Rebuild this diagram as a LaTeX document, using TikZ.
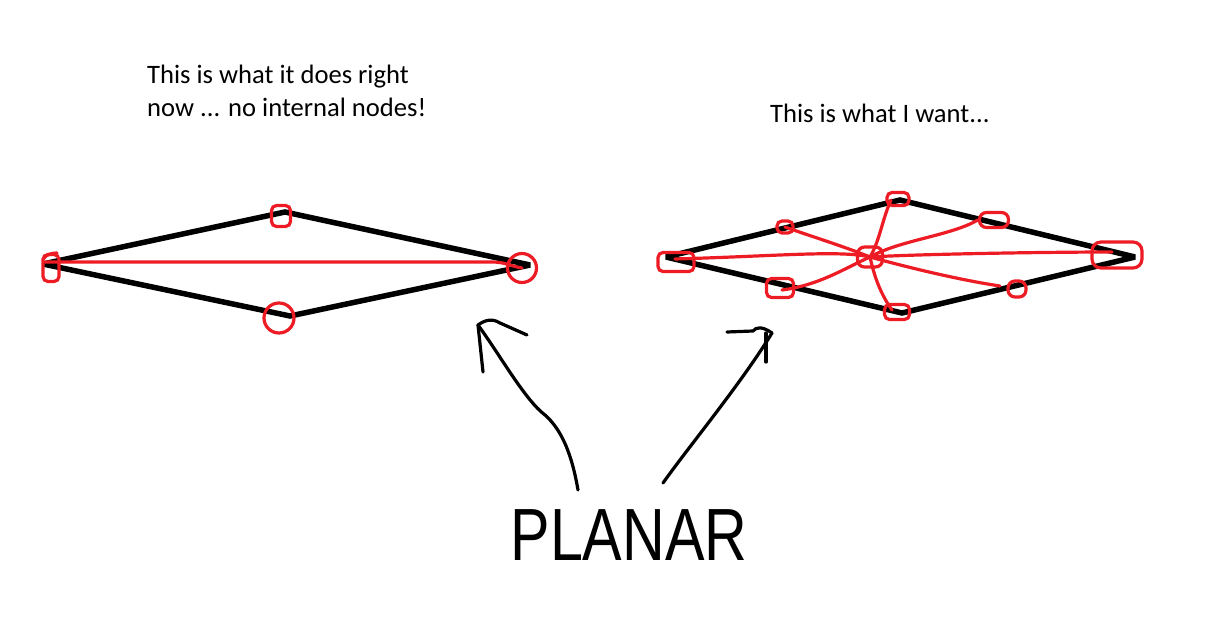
\documentclass[tikz,border=0pt]{standalone}
\usepackage{fontspec}
\setmainfont{Carlito}
\newfontfamily\planarfont{Liberation Sans}
\definecolor{paintred}{RGB}{237,28,36}
\begin{document}
\begin{tikzpicture}[x=1pt,y=-1pt,
  blk/.style={line width=5.5pt,black,line join=miter,miter limit=2},
  redl/.style={line width=3.2pt,paintred,line cap=round,line join=round},
  loopn/.style={draw=paintred,line width=3.2pt,rounded corners=5pt,inner sep=0pt},
  hand/.style={line width=3.2pt,black,line cap=round,line join=round},
  caption/.style={font=\fontsize{26.6}{33}\selectfont,inner sep=0pt,align=left}]
\useasboundingbox (0,0) rectangle (1217,623);
% captions
\node[caption,anchor=base west] (t1) at (147,117) {This is what it does right\\now ... no internal nodes!};
\node[caption,anchor=base west] (t2) at (770,123) {This is what I want...};
% ---------- left diamond ----------
\coordinate (A1) at (43,264);
\coordinate (A2) at (285,212);
\coordinate (A3) at (530,265);
\coordinate (A4) at (290,316);
\draw[blk] (A1)--(A2)--(A3)--(A4)--cycle;
\node[loopn,minimum width=16pt,minimum height=27pt] (la) at (51,268) {};
\node[loopn,minimum width=19pt,minimum height=21pt] (lb) at (281,216) {};
\node[loopn,circle,minimum size=30pt] (lc) at (279,318) {};
\node[loopn,circle,minimum size=29pt] (ld) at (522,268) {};
\draw[redl] (43,259) .. controls (47,254) and (52,253) .. (57,253);
\draw[redl] (la.center) ++(-6,-6) -- (492,262) .. controls (505,262) and (510,266) .. (ld.center);
% ---------- right diamond ----------
\coordinate (B1) at (666,257);
\coordinate (B2) at (900,200);
\coordinate (B3) at (1135,257);
\coordinate (B4) at (902,313);
\draw[blk] (B1)--(B2)--(B3)--(B4)--cycle;
\node[loopn,minimum width=36pt,minimum height=19pt] (rl) at (676,262) {};
\node[loopn,minimum width=22pt,minimum height=13pt] (rt) at (898,199) {};
\node[loopn,minimum width=16pt,minimum height=12pt] (rul) at (785,227) {};
\node[loopn,minimum width=29pt,minimum height=15pt,rounded corners=7pt] (rur) at (994,220) {};
\node[loopn,minimum width=50pt,minimum height=26pt,rounded corners=9pt] (rr) at (1117,255) {};
\node[loopn,minimum width=27pt,minimum height=19pt] (rll) at (780,288) {};
\node[loopn,minimum width=18pt,minimum height=16pt,rounded corners=7pt] (rlr) at (1017,289) {};
\node[loopn,minimum width=25pt,minimum height=15pt] (rb) at (897,312) {};
\node[loopn,minimum width=25pt,minimum height=20pt,rounded corners=7pt] (hub) at (870,257) {};
% spokes
\draw[redl] (hub.center) .. controls (840,250) and (780,256) .. (675,259);
\draw[redl] (hub.center) .. controls (920,254) and (1050,252) .. (1112,252);
\draw[redl] (hub.center) .. controls (880,240) and (882,220) .. (891,200);
\draw[redl] (hub.center) .. controls (840,245) and (810,236) .. (rul.center);
\draw[redl] (hub.center) .. controls (900,240) and (950,236) .. (rur.west);
\draw[redl] (hub.center) .. controls (845,268) and (820,285) .. (782,290);
\draw[redl] (hub.center) .. controls (910,268) and (960,280) .. (1000,286);
\draw[redl] (hub.center) .. controls (876,285) and (885,300) .. (892,310);
% ---------- PLANAR ----------
\node[font=\planarfont\fontsize{74}{80}\selectfont,xscale=0.8,inner sep=0pt] (planar) at (629,535) {PLANAR};
\coordinate (lstart) at (578,490);
\coordinate (ltip) at (478,325);
\coordinate (rstart) at (663,483);
\coordinate (rtip) at (772,333);
\draw[hand] (lstart) .. controls (572,455) and (562,430) .. (545,415)
   .. controls (525,400) and (500,355) .. (ltip);
\draw[hand] (483,372) -- (ltip) .. controls (485,320) and (492,318) .. (500,323) -- (527,335);
\draw[hand] (rstart) .. controls (690,445) and (740,385) .. (rtip);
\draw[hand] (727,332) -- (753,331) .. controls (756,327) and (762,326) .. (rtip);
\draw[hand] (766,333) -- (766,362);
\end{tikzpicture}
\end{document}
